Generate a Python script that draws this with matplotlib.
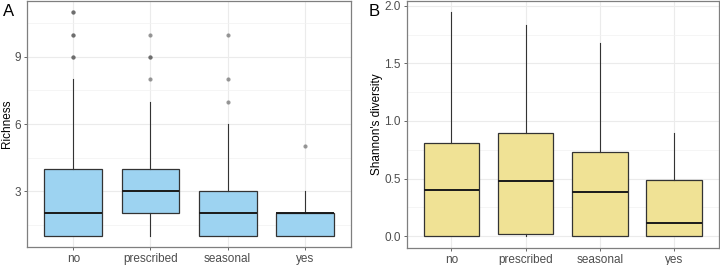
import numpy as np
import matplotlib.pyplot as plt
from matplotlib.ticker import MultipleLocator

plt.rcParams['font.family'] = ['Liberation Sans', 'DejaVu Sans']

groups = ['no', 'prescribed', 'seasonal', 'yes']

# Panel A: richness box stats
rich_lo = [1, 1, 1, 1]
rich_q1 = [1, 2, 1, 1]
rich_med = [2, 3, 2, 2]
rich_q3 = [4, 4, 3, 2]
rich_hi = [8, 7, 6, 3]
rich_out = [[9, 9, 10, 10, 11, 11], [8, 9, 9, 10], [7, 8, 10], [5]]

# Panel B: Shannon diversity box stats
shan_lo = [0.0, 0.0, 0.0, 0.0]
shan_q1 = [0.0, 0.017, 0.0, 0.0]
shan_med = [0.405, 0.477, 0.388, 0.112]
shan_q3 = [0.81, 0.893, 0.727, 0.488]
shan_hi = [1.945, 1.83, 1.678, 0.899]
shan_out = [[], [], [], []]


def make_stats(lo, q1, med, q3, hi, out):
    return [dict(whislo=a, q1=b, med=c, q3=d, whishi=e, fliers=f, label=g)
            for a, b, c, d, e, f, g in zip(lo, q1, med, q3, hi, out, groups)]


def draw_panel(ax, stats, fill, ylabel, label_x):
    ax.bxp(stats, positions=range(1, len(groups) + 1), widths=0.75,
           patch_artist=True, showcaps=False,
           boxprops=dict(facecolor=fill, edgecolor='#333333', linewidth=0.9),
           medianprops=dict(color='#1a1a1a', linewidth=1.4),
           whiskerprops=dict(color='#333333', linewidth=0.8),
           flierprops=dict(marker='o', markersize=3, markerfacecolor='#555555',
                           markeredgecolor='none', alpha=0.6),
           zorder=3)
    ax.set_xlim(0.4, 4.6)
    ax.set_xticks(range(1, len(groups) + 1))
    ax.set_xticklabels(groups)
    ax.grid(True, which='major', color='#ebebeb', linewidth=0.8, zorder=0)
    ax.grid(True, which='minor', axis='y', color='#f2f2f2', linewidth=0.5, zorder=0)
    ax.set_axisbelow(True)
    for s in ax.spines.values():
        s.set_color('#7f7f7f')
        s.set_linewidth(0.9)
    ax.tick_params(axis='both', which='major', labelsize=8.5, colors='#4d4d4d',
                   length=2.5, width=0.6, pad=2)
    ax.tick_params(axis='both', which='minor', length=0)
    ax.set_ylabel(ylabel, fontsize=8.5)
    ax.yaxis.set_label_coords(label_x, 0.5)


fig = plt.figure(figsize=(7.2, 2.65), dpi=100)
axA = fig.add_axes([0.0375, 0.068, 0.45, 0.928])
axB = fig.add_axes([0.565, 0.066, 0.433, 0.93])

draw_panel(axA, make_stats(rich_lo, rich_q1, rich_med, rich_q3, rich_hi, rich_out),
           '#9dd3f1', 'Richness', -0.043)
axA.set_ylim(0.5, 11.5)
axA.yaxis.set_major_locator(MultipleLocator(3))
axA.yaxis.set_minor_locator(MultipleLocator(1.5))

draw_panel(axB, make_stats(shan_lo, shan_q1, shan_med, shan_q3, shan_hi, shan_out),
           '#f0e295', "Shannon's diversity", -0.075)
axB.set_ylim(-0.097, 2.04)
axB.yaxis.set_major_locator(MultipleLocator(0.5))
axB.yaxis.set_minor_locator(MultipleLocator(0.25))
axB.yaxis.set_major_formatter(plt.FormatStrFormatter('%.1f'))

fig.text(0.004, 0.985, 'A', fontsize=12, va='top', ha='left')
fig.text(0.512, 0.985, 'B', fontsize=12, va='top', ha='left')

fig.savefig('out.png', dpi=100)
